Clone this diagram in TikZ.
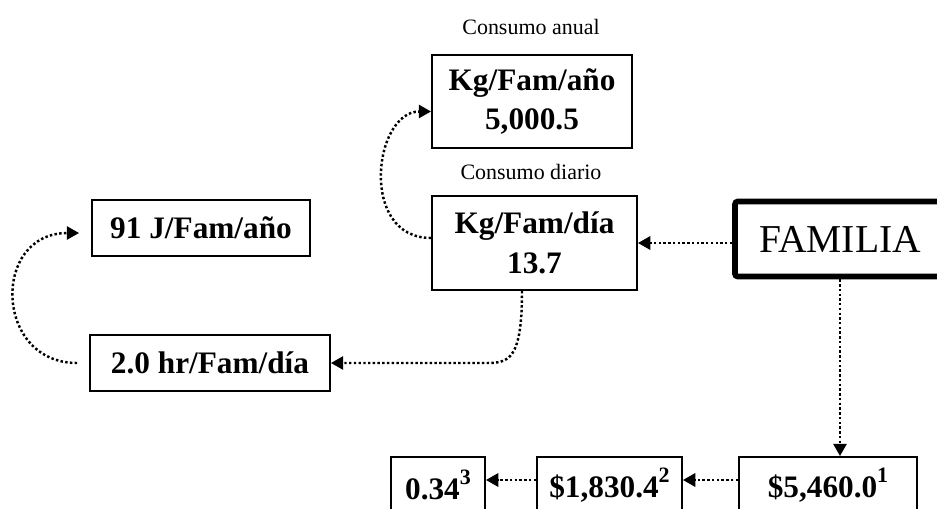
\documentclass[tikz,border=0pt]{standalone}
\usepackage{fontspec}
\setmainfont{Liberation Serif}
\usetikzlibrary{arrows.meta,positioning,calc}

\newcommand{\supnum}[1]{\raisebox{0.5em}{\fontsize{12.5}{12.5}\selectfont #1}}

\begin{document}
\begin{tikzpicture}[
    x=0.02cm,y=-0.02cm,
    valbox/.style={draw,line width=1.1pt,inner sep=0pt,align=center,font=\fontsize{17.8}{22.5}\selectfont\bfseries},
    famnode/.style={draw,line width=3.2pt,rounded corners=1.5pt,inner sep=0pt,font=\fontsize{22.5}{27}\selectfont},
    caption/.style={font=\fontsize{12.5}{15}\selectfont},
    flow/.style={line width=1.4pt,dash pattern=on 1.4pt off 1.3pt,-{Triangle[length=7pt,width=7.5pt]}}
  ]
    \clip (0,0) rectangle (937,508);
    % Consumption boxes
    \node[caption] (lanual) at (531,27) {Consumo anual};
    \node[valbox,minimum width=4cm,minimum height=1.86cm] (ano) at (532,101.5) {Kg/Fam/año\\5,000.5};
    \node[caption] (ldiario) at (531,172) {Consumo diario};
    \node[valbox,minimum width=4.1cm,minimum height=1.88cm] (dia) at (534.5,243) {Kg/Fam/día\\13.7};
    \node[famnode,minimum width=4.2cm,minimum height=1.5cm] (fam) at (840,239) {FAMILIA};

    % Time boxes
    \node[valbox,minimum width=4.36cm,minimum height=1.12cm] (jano) at (201,228) {91 J/Fam/año};
    \node[valbox,minimum width=4.8cm,minimum height=1.12cm] (hr) at (210,363) {2.0 hr/Fam/día};

    % Cost boxes - cut by bottom edge
    \node[valbox,minimum width=1.88cm,minimum height=1.12cm] (ratio) at (438,485) {0.34\supnum{3}};
    \node[valbox,minimum width=2.9cm,minimum height=1.12cm] (cost2) at (609.5,485) {\$1,830.4\supnum{2}};
    \node[valbox,minimum width=3.56cm,minimum height=1.12cm] (cost1) at (828,485) {\$5,460.0\supnum{1}};

    % Flow arrows
    \draw[flow] (fam.west |- dia.east) -- (dia.east);
    \draw[flow] ([yshift=0.1cm]dia.west) .. controls +(-1.45cm,0) and +(-1.15cm,0) .. ([yshift=-0.2cm]ano.west);
    \draw[flow] ([xshift=-0.25cm]dia.south) .. controls +(0,-1.35cm) and +(0.45cm,0) .. ([xshift=-0.95cm]$(dia.south |- hr.east)$) -- (hr.east);
    \draw[flow,shorten <=0.24cm,shorten >=0.24cm] (hr.west) .. controls +(-1.9cm,0) and +(-2cm,0) .. ([yshift=-0.1cm]jano.west);
    \draw[flow] (fam.south) -- (fam.south |- cost1.north);
    \draw[flow] ([yshift=0.1cm]cost1.west) -- ([yshift=0.1cm]cost2.east);
    \draw[flow] ([yshift=0.1cm]cost2.west) -- ([yshift=0.1cm]ratio.east);
\end{tikzpicture}
\end{document}
